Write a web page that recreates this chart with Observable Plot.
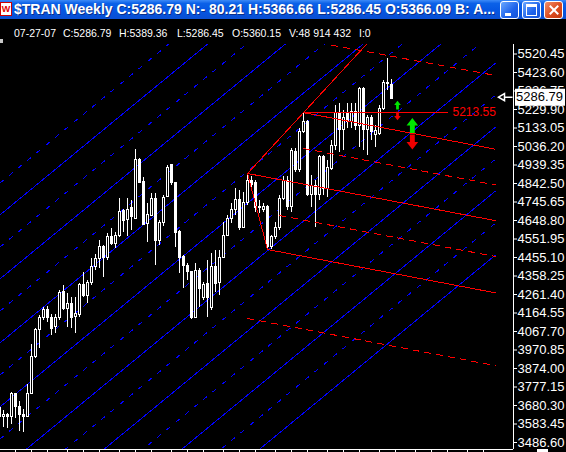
<!DOCTYPE html>
<html><head><meta charset="utf-8">
<script src="https://cdn.jsdelivr.net/npm/d3@7"></script>
<script src="https://cdn.jsdelivr.net/npm/@observablehq/plot@0.6"></script>
<style>
html,body{margin:0;padding:0;background:#000;width:566px;height:452px;overflow:hidden;}
#wrap{position:relative;width:566px;height:452px;background:#000;}
#titlebar{position:absolute;left:0;top:0;width:566px;height:19px;background:linear-gradient(#3c8af7 0%,#0b61e8 18%,#0556e2 55%,#0a4fd2 100%);z-index:3;}
#title{position:absolute;left:14px;top:1px;font:bold 14px "Liberation Sans",Arial,sans-serif;color:#fff;text-shadow:1px 1px 0 #0a2f8a;white-space:nowrap;line-height:17px;}
#icon{position:absolute;left:0;top:2px;width:12px;height:14px;background:#fff;border:1px solid #c00;box-sizing:border-box;font:bold 9px Arial;color:#d00;line-height:12px;text-align:center;}
.btn{position:absolute;top:1px;width:19px;height:18px;border:1px solid #fff;border-radius:3px;box-sizing:border-box;background:linear-gradient(135deg,#6aa8ff,#1d62ea 60%,#1553d8);}
#bmin{left:500px}#bmax{left:522px}#bclose{left:544px;background:linear-gradient(135deg,#f0906c,#dc4b1e 55%,#c23a10);}
#bmin:after{content:"";position:absolute;left:4px;top:11px;width:6px;height:3px;background:#fff;}
#bmax:after{content:"";position:absolute;left:3px;top:2px;width:9px;height:8px;border:1px solid #fff;border-top:3px solid #fff;}
#bclose:before,#bclose:after{content:"";position:absolute;left:8px;top:2px;width:2px;height:12px;background:#fff;transform:rotate(45deg);}
#bclose:after{transform:rotate(-45deg);}
#chart{position:absolute;left:0;top:20px;z-index:1;}
.info{position:absolute;top:27px;font:10.5px "Liberation Sans",Arial,sans-serif;color:#fff;white-space:nowrap;line-height:12px;z-index:2;}
#mark{position:absolute;left:0;top:39px;width:3px;height:4px;background:#c8c8c8;z-index:2;}
#corner{position:absolute;left:537px;top:449px;width:11px;height:3px;background:#fff;z-index:2;}
</style></head>
<body>
<div id="wrap">
  <div id="titlebar"><div id="icon">W</div><span id="title">$TRAN Weekly C:5286.79 N:- 80.21 H:5366.66 L:5286.45 O:5366.09 B: A...</span>
  <div class="btn" id="bmin"></div><div class="btn" id="bmax"></div><div class="btn" id="bclose"></div></div>
  <div id="chart"></div>
  <div class="info" style="left:14px">07-27-07</div>
  <div class="info" style="left:63px">C:5286.79</div>
  <div class="info" style="left:119px">H:5389.36</div>
  <div class="info" style="left:177px">L:5286.45</div>
  <div class="info" style="left:232px">O:5360.15</div>
  <div class="info" style="left:289px">V:48 914 432</div>
  <div class="info" style="left:359px">I:0</div>
  <div id="mark"></div>
  <div id="corner"></div>
</div>
<script>
// ---- weekly bars (Friday week-ending), 2005-09-09 .. 2007-07-27
const weekEnding = d3.utcFriday.range(new Date("2005-09-09"), new Date("2007-07-28"));
const open = [3618,3618,3628,3618,3738,3670,3633,3618,3738,3932,
  4073,4141,4178,4136,4089,4136,4272,4188,4214,4146,
  4152,4309,4256,4324,4403,4445,4508,4450,4560,4528,
  4570,4696,4649,4712,4659,4963,4848,4628,4675,4764,
  4544,4638,4774,4937,4843,4591,4460,4413,4377,4136,
  4387,4241,4319,4193,4403,4324,4455,4570,4659,4706,
  4754,4612,4738,4858,4843,4712,4706,4717,4508,4560,
  4612,4764,4858,4717,5005,4911,5110,5162,4780,4832,
  4780,4979,4816,4921,5041,5214,5120,5214,5167,5219,
  5146,5335,5120,5183,5099,5104,5235,5361,5360.15];
const high = [3680,3654,3638,3748,3743,3701,3659,3790,4000,4083,
  4152,4193,4199,4157,4157,4282,4309,4267,4246,4246,
  4319,4377,4335,4450,4471,4544,4518,4581,4607,4586,
  4764,4706,4764,4754,5021,4973,4874,4738,4790,4790,
  4649,4780,4937,4937,4848,4596,4466,4424,4382,4424,
  4398,4324,4439,4476,4492,4492,4638,4675,4738,4816,
  4806,4795,4895,4879,4858,4754,4738,4727,4570,4638,
  4780,4879,4879,5026,5026,5130,5213.55,5172,4884,4858,
  4989,4989,4963,5068,5251,5261,5225,5261,5261,5261,
  5345,5345,5199,5199,5146,5251,5382,5497,5389.36];
const low = [3602,3565,3560,3581,3612,3544,3539,3618,3738,3926,
  3979,4125,4115,4047,4057,4125,4178,4089,4083,4057,
  4141,4246,4214,4309,4387,4398,4350,4439,4518,4502,
  4560,4586,4565,4596,4659,4843,4623,4534,4675,4413,
  4518,4617,4769,4832,4508,4371,4293,4335,4131,4136,
  4193,4230,4141,4178,4272,4256,4450,4565,4633,4675,
  4596,4607,4727,4806,4691,4685,4691,4497,4497,4549,
  4596,4754,4701,4691,4900,4900,5104,4774,4717,4612,
  4754,4780,4769,4911,5015,5005,5015,5130,5130,5120,
  5031,5015,4989,5068,5031,5094,5225,5329,5286.45];
const close = [3665,3628,3618,3738,3670,3628,3618,3738,3932,4073,
  4141,4178,4136,4083,4141,4267,4188,4214,4141,4157,
  4309,4256,4324,4403,4445,4508,4450,4560,4528,4570,
  4691,4644,4706,4665,4963,4843,4623,4680,4764,4544,
  4638,4769,4926,4843,4586,4455,4413,4377,4136,4387,
  4288,4309,4241,4403,4319,4455,4570,4659,4706,4754,
  4612,4738,4858,4837,4712,4722,4722,4508,4560,4612,
  4764,4858,4717,5015,4911,5110,5162,4780,4832,4780,
  4979,4816,4926,5041,5214,5120,5183,5162,5219,5146,
  5335,5120,5183,5110,5115,5235,5371,5371,5286.79];

// ---- price axis labels
const priceTicks = [5520.45,5423.60,5326.75,5229.90,5133.05,5036.20,4939.35,4842.50,4745.65,4648.80,4551.95,
  4455.10,4358.25,4261.40,4164.55,4067.70,3970.85,3874.00,3777.15,3680.30,3583.45,3486.60];
// ---- month ticks (first weekly bar of each month)
const monthTicks = ["2005-10-07","2005-11-04","2005-12-02","2006-01-06","2006-02-03","2006-03-03","2006-04-07",
  "2006-05-05","2006-06-02","2006-07-07","2006-08-04","2006-09-01","2006-10-06","2006-11-03","2006-12-01",
  "2007-01-05","2007-02-02","2007-03-02","2007-04-06","2007-05-04","2007-06-01","2007-07-06","2007-08-03",
  "2007-09-07","2007-10-05","2007-11-02","2007-12-07","2008-01-04"];

// ---- blue parallel channel lines (price at start week and end week)
const channelFrom = "2005-09-09", channelTo = "2008-01-25";
const channelSolidStart = [4676,4341,4006,3671,3336,3001,2666,2331];
const channelSolidEnd   = [6813,6478,6143,5808,5473,5138,4803,4468];
const channelDashStart  = [4843,4508,4173,3838,3503,3168,2833,2498];
const channelDashEnd    = [6980,6645,6310,5975,5640,5305,4970,4635];

// ---- red pitchfork (pivots A high, C low, B high)
const forkSolidFromDate = ["2006-11-17","2006-11-17","2007-02-23","2006-11-17","2006-12-22"];
const forkSolidFromPrice = [4895,4895,5213.55,4895,4497];
const forkSolidToDate = ["2007-06-15","2006-12-22","2008-01-25","2008-01-25","2008-01-25"];
const forkSolidToPrice = [5577,4497,5022,4648,4270];
const forkDashFromDate = ["2007-04-13","2007-02-23","2007-01-12","2006-11-17"];
const forkDashFromPrice = [5567,5026,4675,4136];
const forkDashToDate = ["2008-01-25","2008-01-25","2008-01-25","2008-01-25"];
const forkDashToPrice = [5408,4835,4460,3889];
const levelFrom = "2007-02-23", levelTo = "2007-11-02", levelPrice = 5213.55;

// ---- signal arrows
const signalDate = ["2007-08-06T12:00Z","2007-08-06T12:00Z","2007-09-01T12:00Z","2007-09-01T12:00Z"];
const signalPrice = [5253,5196,5146,5060];
const signalKind = ["buy","sell","buy","sell"];
const signalStrength = ["weak","weak","strong","strong"];

const lastClose = 5286.79;

// ---- build tables
const bars = weekEnding.map((date, i) => ({date, open: open[i], high: high[i], low: low[i], close: close[i]}));
const solidLines = channelSolidStart.map((p, i) => ({x1: new Date(channelFrom), y1: p, x2: new Date(channelTo), y2: channelSolidEnd[i]}));
const dashLines = channelDashStart.map((p, i) => ({x1: new Date(channelFrom), y1: p, x2: new Date(channelTo), y2: channelDashEnd[i]}));
const forkSolid = forkSolidFromDate.map((d, i) => ({x1: new Date(d), y1: forkSolidFromPrice[i], x2: new Date(forkSolidToDate[i]), y2: forkSolidToPrice[i]}));
forkSolid.push({x1: new Date(levelFrom), y1: levelPrice, x2: new Date(levelTo), y2: levelPrice});
const forkDash = forkDashFromDate.map((d, i) => ({x1: new Date(d), y1: forkDashFromPrice[i], x2: new Date(forkDashToDate[i]), y2: forkDashToPrice[i]}));
const signals = signalDate.map((d, i) => ({date: new Date(d), price: signalPrice[i], kind: signalKind[i], strength: signalStrength[i]}));

const upArrow = {draw(ctx, size) {const r = Math.sqrt(size / Math.PI), h = r * 1.3, s = r * 0.42;
  ctx.moveTo(0, -h); ctx.lineTo(r, 0); ctx.lineTo(s, 0); ctx.lineTo(s, h); ctx.lineTo(-s, h); ctx.lineTo(-s, 0); ctx.lineTo(-r, 0); ctx.closePath();}};
const downArrow = {draw(ctx, size) {const r = Math.sqrt(size / Math.PI), h = r * 1.3, s = r * 0.42;
  ctx.moveTo(0, h); ctx.lineTo(r, 0); ctx.lineTo(s, 0); ctx.lineTo(s, -h); ctx.lineTo(-s, -h); ctx.lineTo(-s, 0); ctx.lineTo(-r, 0); ctx.closePath();}};
const priceBox = {draw(ctx) {ctx.rect(-25, -8.5, 50, 17);}};
const pointer = {draw(ctx) {ctx.moveTo(-7, 0); ctx.lineTo(-1, -3.5); ctx.lineTo(-1, 3.5); ctx.closePath(); ctx.moveTo(-1, 0); ctx.lineTo(7, 0);}};

const xDomain = [new Date("2005-09-10T18:00Z"), new Date("2008-02-25T12:00Z")];
const yDomain = [3450, 5570.2];

const chart = Plot.plot({
  width: 566, height: 432,
  marginTop: 24, marginBottom: 3, marginLeft: 0, marginRight: 53,
  style: {background: "#000", color: "#fff", fontFamily: "'Liberation Sans', Arial, sans-serif", overflow: "visible"},
  x: {type: "utc", domain: xDomain, range: [0, 513]},
  y: {domain: yDomain, range: [429, 24]},
  marks: [
    Plot.link(solidLines, {x1: "x1", y1: "y1", x2: "x2", y2: "y2", stroke: "#0000ff", strokeWidth: 1, clip: true, shapeRendering: "crispEdges"}),
    Plot.link(dashLines, {x1: "x1", y1: "y1", x2: "x2", y2: "y2", stroke: "#0000ff", strokeWidth: 1, strokeDasharray: "5,7", clip: true, shapeRendering: "crispEdges"}),
    Plot.ruleX(bars, {x: "date", y1: "low", y2: "high", stroke: "#fff", shapeRendering: "crispEdges"}),
    Plot.rect(bars, {x1: "date", x2: "date", y1: "open", y2: "close", insetLeft: -1, insetRight: -1,
      fill: d => d.close >= d.open ? "#000" : "#fff", stroke: "#fff", shapeRendering: "crispEdges"}),
    Plot.link(forkSolid, {x1: "x1", y1: "y1", x2: "x2", y2: "y2", stroke: "#ff0000", strokeWidth: 1, clip: true, shapeRendering: "crispEdges"}),
    Plot.link(forkDash, {x1: "x1", y1: "y1", x2: "x2", y2: "y2", stroke: "#ff0000", strokeWidth: 1, strokeDasharray: "7,5", clip: true, shapeRendering: "crispEdges"}),
    Plot.text([levelPrice], {x: new Date(levelTo), y: d => d, text: d => d.toFixed(2), dx: 5, textAnchor: "start", fill: "#ff0000", fontSize: 12}),
    Plot.dot(signals.filter(d => d.kind === "buy" && d.strength === "weak"), {x: "date", y: "price", symbol: upArrow, r: 3.3, fill: "#00e600", stroke: "none"}),
    Plot.dot(signals.filter(d => d.kind === "sell" && d.strength === "weak"), {x: "date", y: "price", symbol: downArrow, r: 3.3, fill: "#f00000", stroke: "none"}),
    Plot.dot(signals.filter(d => d.kind === "buy" && d.strength === "strong"), {x: "date", y: "price", symbol: upArrow, r: 5.8, fill: "#00e600", stroke: "none"}),
    Plot.dot(signals.filter(d => d.kind === "sell" && d.strength === "strong"), {x: "date", y: "price", symbol: downArrow, r: 5.8, fill: "#f00000", stroke: "none"}),
    Plot.axisY({anchor: "right", ticks: priceTicks, tickFormat: d => d.toFixed(2), tickSize: 3, tickPadding: 1, fontSize: 13, color: "#fff", label: null}),
    Plot.axisX({anchor: "bottom", ticks: monthTicks.map(d => new Date(d)), tickFormat: () => "", tickSize: 3, color: "#fff", label: null}),
    Plot.ruleX([xDomain[1]], {stroke: "#fff"}),
    Plot.ruleY([yDomain[0]], {stroke: "#fff"}),
    Plot.dot([lastClose], {y: d => d, frameAnchor: "right", dx: 26.5, dy: -1.5, symbol: priceBox, fill: "#fff", stroke: "none"}),
    Plot.text([lastClose], {y: d => d, frameAnchor: "right", dx: 2.5, dy: -1.5, text: d => d.toFixed(2), textAnchor: "start", fill: "#000", fontSize: 13}),
    Plot.dot([lastClose], {y: d => d, frameAnchor: "right", dx: -8, dy: -1.5, symbol: pointer, fill: "none", stroke: "#fff"})
  ]
});
document.getElementById("chart").appendChild(chart);
</script>
</body></html>
